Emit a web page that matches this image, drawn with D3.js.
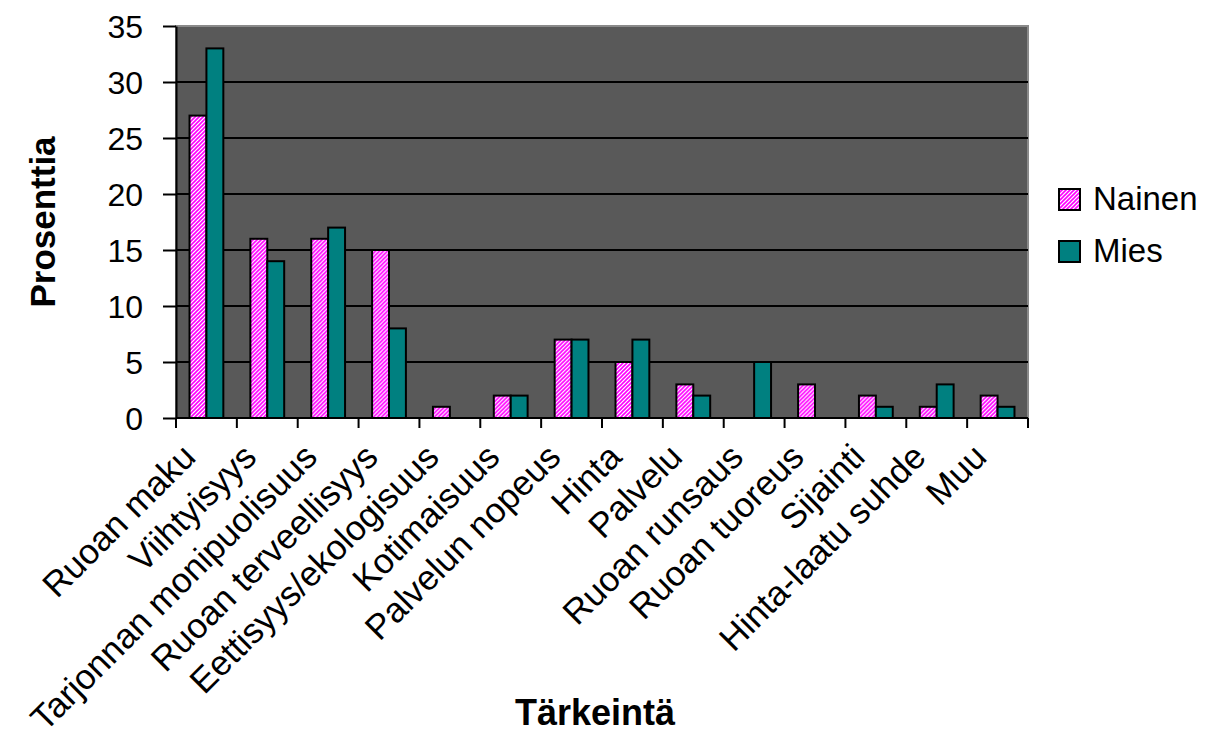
<!DOCTYPE html>
<html>
<head>
<meta charset="utf-8">
<script src="https://cdn.jsdelivr.net/npm/d3@7"></script>
<style>
  html, body { margin: 0; padding: 0; background: #fff; }
  svg { display: block; font-family: Arial, "Liberation Sans", sans-serif; }
</style>
</head>
<body>
<svg id="chart" width="1208" height="743"></svg>
<script>
// Most important factor when choosing a restaurant, by gender (%)
const categories = [
  "Ruoan maku", "Viihtyisyys", "Tarjonnan monipuolisuus", "Ruoan terveellisyys",
  "Eettisyys/ekologisuus", "Kotimaisuus", "Palvelun nopeus", "Hinta", "Palvelu",
  "Ruoan runsaus", "Ruoan tuoreus", "Sijainti", "Hinta-laatu suhde", "Muu"
];
const nainen = [27, 16, 16, 15, 1, 2, 7, 5, 3, 0, 3, 2, 1, 2];
const mies   = [33, 14, 17, 8, 0, 2, 7, 7, 2, 5, 0, 1, 3, 1];
const seriesNames = ["Nainen", "Mies"];
const yTicks = [0, 5, 10, 15, 20, 25, 30, 35];

const FONT = "Arial, 'Liberation Sans', sans-serif";
const svg = d3.select("#chart");
const plot = { left: 176, right: 1028, top: 26, bottom: 418 };

// Hatched fill for the first series
const defs = svg.append("defs");
const pat = defs.append("pattern")
  .attr("id", "hatch")
  .attr("patternUnits", "userSpaceOnUse")
  .attr("width", 4).attr("height", 4);
pat.append("rect").attr("width", 4).attr("height", 4).attr("fill", "#ffffff");
pat.append("path")
  .attr("d", "M-1,1 l2,-2 M0,4 l4,-4 M3,5 l2,-2")
  .attr("stroke", "#ff00ff").attr("stroke-width", 1.6);

const x = d3.scaleBand().domain(categories).range([plot.left, plot.right]).padding(0);
const inner = d3.scaleBand().domain(seriesNames).range([0, x.bandwidth()]).paddingInner(0).paddingOuter(0.8);
const y = d3.scaleLinear().domain([0, 35]).range([plot.bottom, plot.top]);

// Plot background
svg.append("rect")
  .attr("x", plot.left).attr("y", plot.top)
  .attr("width", plot.right - plot.left).attr("height", plot.bottom - plot.top)
  .attr("fill", "#595959")
  .attr("stroke", "#8a8a8a").attr("stroke-width", 2);

// Gridlines
svg.append("g").selectAll("line")
  .data(yTicks.filter(d => d > 0 && d < 35))
  .join("line")
  .attr("x1", plot.left).attr("x2", plot.right)
  .attr("y1", d => y(d)).attr("y2", d => y(d))
  .attr("stroke", "#000").attr("stroke-width", 2);

// Bars
const rows = categories.map((c, i) => ({ c, vals: [nainen[i], mies[i]] }));
const groups = svg.append("g").selectAll("g")
  .data(rows).join("g")
  .attr("transform", d => `translate(${x(d.c)},0)`);
groups.selectAll("rect")
  .data(d => d.vals.map((v, j) => ({ s: seriesNames[j], v })).filter(e => e.v > 0))
  .join("rect")
  .attr("x", e => inner(e.s))
  .attr("width", inner.bandwidth())
  .attr("y", e => y(e.v))
  .attr("height", e => y(0) - y(e.v))
  .attr("fill", e => e.s === "Nainen" ? "url(#hatch)" : "#008080")
  .attr("stroke", "#000")
  .attr("stroke-width", 2);

// Y axis
const yAxis = svg.append("g")
  .attr("transform", `translate(${plot.left},0)`)
  .call(d3.axisLeft(y).tickValues(yTicks).tickSize(13).tickPadding(20).tickSizeOuter(0));
yAxis.select(".domain").attr("stroke", "#000").attr("stroke-width", 2);
yAxis.selectAll(".tick line").attr("stroke", "#000").attr("stroke-width", 2);
yAxis.selectAll(".tick text").attr("font-size", 32).attr("fill", "#000")
  .attr("font-family", FONT).attr("dy", "0.36em");

// X axis: ticks at category boundaries
const xAxisG = svg.append("g");
xAxisG.append("line")
  .attr("x1", plot.left).attr("x2", plot.right)
  .attr("y1", plot.bottom).attr("y2", plot.bottom)
  .attr("stroke", "#000").attr("stroke-width", 2);
xAxisG.selectAll("line.tk")
  .data(categories.concat([null]))
  .join("line").attr("class", "tk")
  .attr("x1", (d, i) => plot.left + i * x.bandwidth())
  .attr("x2", (d, i) => plot.left + i * x.bandwidth())
  .attr("y1", plot.bottom).attr("y2", plot.bottom + 10)
  .attr("stroke", "#000").attr("stroke-width", 2);
xAxisG.selectAll("text")
  .data(categories)
  .join("text")
  .attr("transform", d => `translate(${x(d) + x.bandwidth() / 2 - 9},${plot.bottom + 41}) rotate(-45)`)
  .attr("text-anchor", "end")
  .attr("font-size", 35)
  .attr("font-family", FONT)
  .attr("fill", "#000")
  .text(d => d);

// Axis titles
svg.append("text")
  .attr("transform", "translate(55,222) rotate(-90)")
  .attr("text-anchor", "middle")
  .attr("font-size", 35).attr("font-weight", "bold")
  .text("Prosenttia");
svg.append("text")
  .attr("x", 595).attr("y", 725)
  .attr("text-anchor", "middle")
  .attr("font-size", 36).attr("font-weight", "bold")
  .text("Tärkeintä");

// Legend
const legend = svg.append("g").selectAll("g")
  .data(seriesNames).join("g")
  .attr("transform", (d, i) => `translate(1059,${189 + i * 52})`);
legend.append("rect")
  .attr("width", 21).attr("height", 21)
  .attr("fill", d => d === "Nainen" ? "url(#hatch)" : "#008080")
  .attr("stroke", "#000").attr("stroke-width", 2);
legend.append("text")
  .attr("x", 34).attr("y", 21)
  .attr("font-size", 33)
  .text(d => d);
</script>
</body>
</html>
